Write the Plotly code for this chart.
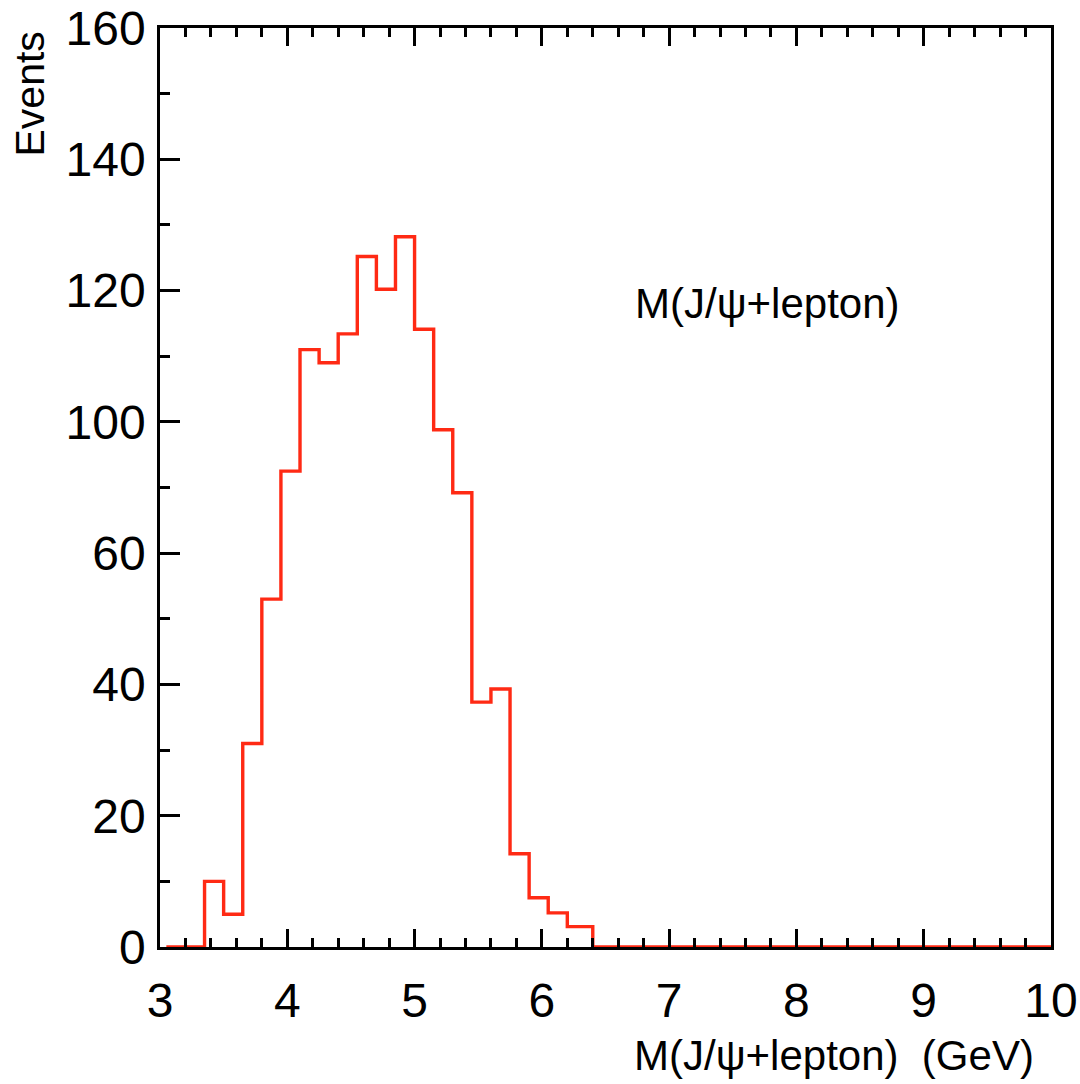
import plotly.graph_objects as go

# Bin edges (GeV) and counts (counts in axis-position units)
bin_edges = [3.05, 3.2, 3.35, 3.5, 3.65, 3.8, 3.95, 4.1, 4.25, 4.4, 4.55, 4.7,
             4.85, 5.0, 5.15, 5.3, 5.45, 5.6, 5.75, 5.9, 6.05, 6.2, 6.4, 10.0]
counts = [0, 0, 10, 5, 31, 53, 72.5, 91, 89, 93.4, 105.2, 100.2,
          108.2, 94.1, 78.8, 69.2, 37.3, 39.3, 14.2, 7.5, 5.2, 3.1, 0]

y_tick_positions = [0, 20, 40, 60, 80, 100, 120, 140]
y_tick_labels = ["0", "20", "40", "60", "100", "120", "140", "160"]
x_tick_values = [3, 4, 5, 6, 7, 8, 9, 10]

FONT = "Liberation Sans, Arial, Helvetica, sans-serif"
L, R, T, B = 160, 29, 28, 137
W, H = 1080, 1084
PW, PH = W - L - R, H - T - B

fig = go.Figure()
fig.add_trace(go.Scatter(
    x=bin_edges,
    y=counts + [counts[-1]],
    mode="lines",
    line=dict(shape="hv", color="#ff2a14", width=3.4),
    hoverinfo="skip",
    showlegend=False,
))

fig.update_layout(
    width=W, height=H,
    margin=dict(l=L, r=R, t=T, b=B, autoexpand=False),
    paper_bgcolor="white", plot_bgcolor="white",
    font=dict(family=FONT, color="black"),
    annotations=[
        dict(text="M(J/ψ+lepton)", x=(633 - L) / PW, y=(H - B - 303) / PH,
             xref="paper", yref="paper",
             showarrow=False, font=dict(size=42, family=FONT, color="black"),
             xanchor="left", yanchor="middle"),
        dict(text="M(J/ψ+lepton)  (GeV)", x=(1036 - L) / PW, y=-(1055 - (H - B)) / PH,
             xref="paper", yref="paper",
             showarrow=False, font=dict(size=42, family=FONT, color="black"),
             xanchor="right", yanchor="middle"),
        dict(text="Events", x=-(L - 30) / PW, y=(H - B - 30) / PH,
             xref="paper", yref="paper",
             showarrow=False, textangle=-90,
             font=dict(size=41, family=FONT, color="black"),
             xanchor="center", yanchor="top"),
    ],
)

fig.update_xaxes(
    range=[3, 10],
    tickvals=x_tick_values,
    ticktext=[str(v) for v in x_tick_values],
    ticks="inside", ticklen=18, tickwidth=2.5, tickcolor="black",
    minor=dict(dtick=0.2, ticks="inside", ticklen=9, tickwidth=2.5, tickcolor="black", showgrid=False),
    showline=True, linecolor="black", linewidth=2.5, mirror="ticks",
    showgrid=False, zeroline=False, automargin=False,
    tickfont=dict(size=48, family=FONT, color="black"),
    ticklabelstandoff=10,
)
fig.update_yaxes(
    range=[0, 140],
    tickvals=y_tick_positions,
    ticktext=y_tick_labels,
    ticks="inside", ticklen=20, tickwidth=2.5, tickcolor="black",
    minor=dict(dtick=10, ticks="inside", ticklen=10, tickwidth=2.5, tickcolor="black", showgrid=False),
    showline=True, linecolor="black", linewidth=2.5, mirror=True,
    showgrid=False, zeroline=False, automargin=False,
    tickfont=dict(size=48, family=FONT, color="black"),
    ticklabelstandoff=2,
)

fig.write_html("out.html")
